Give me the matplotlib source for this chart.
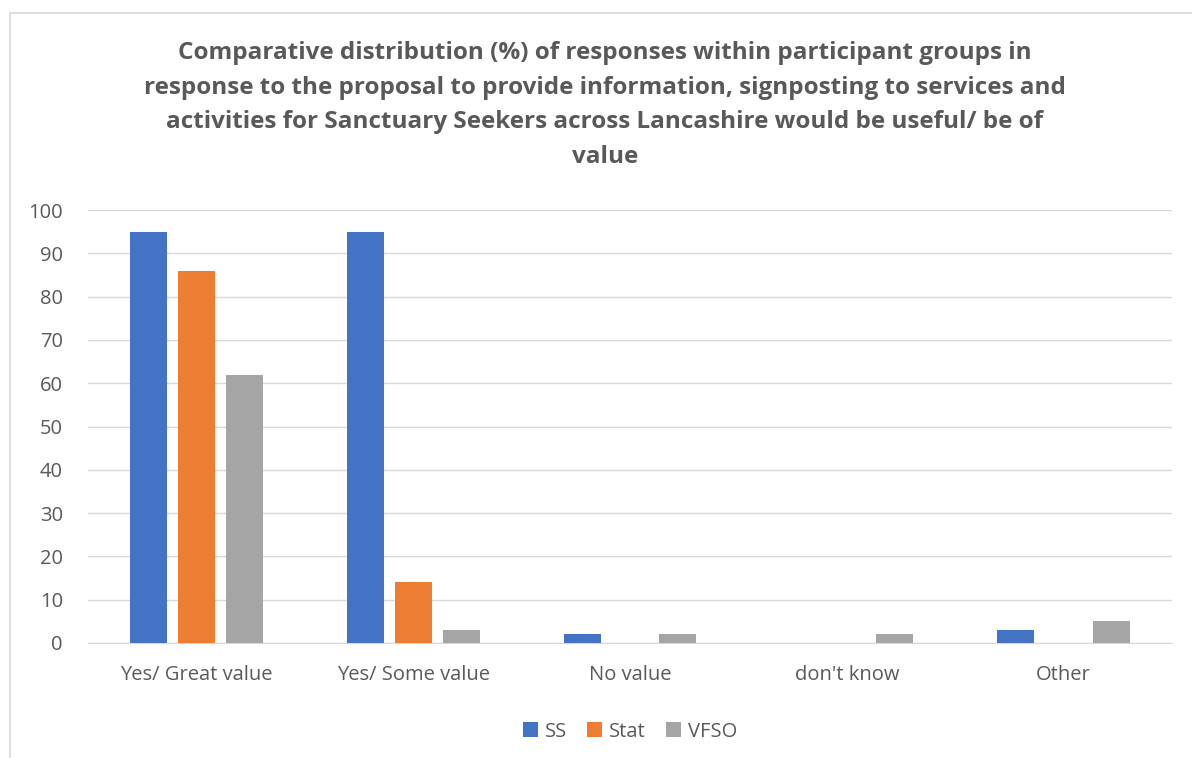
import numpy as np
import matplotlib.pyplot as plt
from matplotlib.patches import Rectangle

categories = ["Yes/ Great value", "Yes/ Some value", "No value", "don't know", "Other"]
series_names = ["SS", "Stat", "VFSO"]
ss_vals = [95, 95, 2, 0, 3]
stat_vals = [86, 14, 0, 0, 0]
vfso_vals = [62, 3, 2, 2, 5]
colors = ["#4472C4", "#ED7D31", "#A5A5A5"]

title = ("Comparative distribution (%) of responses within participant groups in\n"
         "response to the proposal to provide information, signposting to services and\n"
         "activities for Sanctuary Seekers across Lancashire would be useful/ be of\n"
         "value")

plt.rcParams['font.family'] = ['Open Sans', 'DejaVu Sans']
txt = "#595959"

fig = plt.figure(figsize=(11.92, 7.58), dpi=100)
fig.patches.append(Rectangle((10 / 1192, -0.01), 1.2, 1 - 13 / 758 + 0.01,
                             transform=fig.transFigure, fill=False,
                             edgecolor="#D9D9D9", linewidth=1.2))
ax = fig.add_axes([88 / 1192, 1 - 643 / 758, (1172 - 88) / 1192, (643 - 210) / 758])

x = np.arange(len(categories))
step, width = 0.221, 0.17
for i, (name, vals) in enumerate(zip(series_names, [ss_vals, stat_vals, vfso_vals])):
    ax.bar(x + (i - 1) * step, vals, width, color=colors[i], label=name, zorder=3)

ax.set_xlim(-0.5, len(categories) - 0.5)
ax.set_ylim(0, 100)
ax.set_yticks(np.arange(0, 101, 10))
ax.set_xticks(x)
ax.set_xticklabels(categories)
ax.grid(axis="y", color="#D9D9D9", linewidth=1, zorder=0)
for s in ["top", "right", "left"]:
    ax.spines[s].set_visible(False)
ax.spines["bottom"].set_color("#D9D9D9")
ax.tick_params(axis="both", length=0, colors=txt, labelsize=14.5)
ax.tick_params(axis="x", pad=16)
ax.tick_params(axis="y", pad=18)

fig.text(605 / 1192, 1 - 105 / 758, title, ha="center", va="center",
         fontsize=17.5, fontweight="bold", color=txt, linespacing=1.58)

leg = ax.legend(loc="upper center", bbox_to_anchor=(0.5, -0.14), ncol=3, frameon=False,
                fontsize=14.5, handlelength=0.75, handleheight=0.75, handletextpad=0.35,
                columnspacing=1.0)
for t in leg.get_texts():
    t.set_color(txt)

fig.savefig("out.png", dpi=100)
